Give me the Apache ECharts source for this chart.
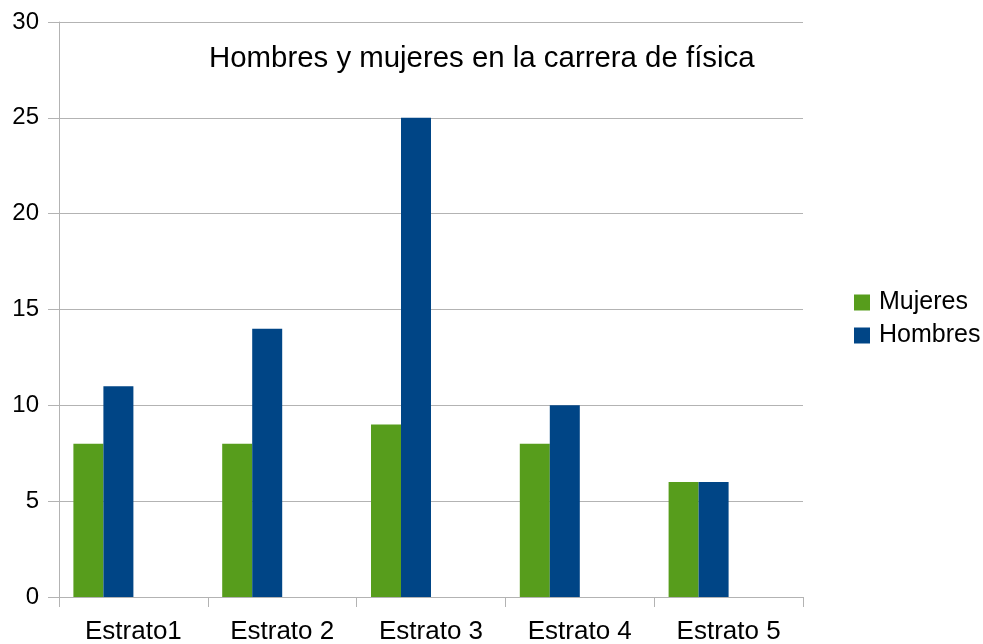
<!DOCTYPE html>
<html>
<head>
<meta charset="utf-8">
<script src="https://cdn.jsdelivr.net/npm/echarts@6/dist/echarts.min.js"></script>
<style>html,body{margin:0;padding:0;background:#fff}#c{width:983px;height:644px}</style>
</head>
<body>
<div id="c"></div>
<script>
var categories = ['Estrato1', 'Estrato 2', 'Estrato 3', 'Estrato 4', 'Estrato 5'];
var mujeres = [8, 8, 9, 8, 6];
var hombres = [11, 14, 25, 10, 6];
var emptySlots = [null, null, null, null, null];
var yTicks = { min: 0, max: 30, interval: 5 };
var titleText = 'Hombres y mujeres en la carrera de física';

var chart = echarts.init(document.getElementById('c'), null, { renderer: 'canvas' });
var font = 'Liberation Sans, Arial, sans-serif';
chart.setOption({
  animation: false,
  backgroundColor: '#fff',
  title: {
    text: titleText, left: 204, top: 39,
    textStyle: { fontFamily: font, fontSize: 29.4, fontWeight: 'normal', color: '#000' }
  },
  legend: {
    data: ['Mujeres', 'Hombres'],
    orient: 'vertical', left: 849, top: 285,
    itemWidth: 16, itemHeight: 16, itemGap: 8,
    icon: 'rect',
    textStyle: { fontFamily: font, fontSize: 25, color: '#000', padding: [0, 0, 0, 4] }
  },
  grid: { left: 59, right: 180, top: 22, bottom: 47, containLabel: false, outerBoundsMode: 'none' },
  xAxis: {
    type: 'category', data: categories,
    axisLine: { lineStyle: { color: '#b3b3b3' } },
    axisTick: { show: true, length: 10, lineStyle: { color: '#b3b3b3' } },
    axisLabel: { fontFamily: font, fontSize: 26, color: '#000', margin: 22 }
  },
  yAxis: {
    type: 'value', min: yTicks.min, max: yTicks.max, interval: yTicks.interval,
    axisLine: { show: true, lineStyle: { color: '#b3b3b3' } },
    axisTick: { show: true, length: 11, lineStyle: { color: '#b3b3b3' } },
    splitLine: { lineStyle: { color: '#b3b3b3' } },
    axisLabel: { fontFamily: font, fontSize: 24, color: '#000', margin: 20 }
  },
  series: [
    { name: 'Mujeres', type: 'bar', data: mujeres, barWidth: 30, barGap: '0%', itemStyle: { color: '#579d1c' } },
    { name: 'Hombres', type: 'bar', data: hombres, barWidth: 30, barGap: '0%', itemStyle: { color: '#004586' } },
    { name: 'e1', type: 'bar', data: emptySlots, barWidth: 30, barGap: '0%' },
    { name: 'e2', type: 'bar', data: emptySlots, barWidth: 30, barGap: '0%' }
  ]
});
</script>
</body>
</html>
